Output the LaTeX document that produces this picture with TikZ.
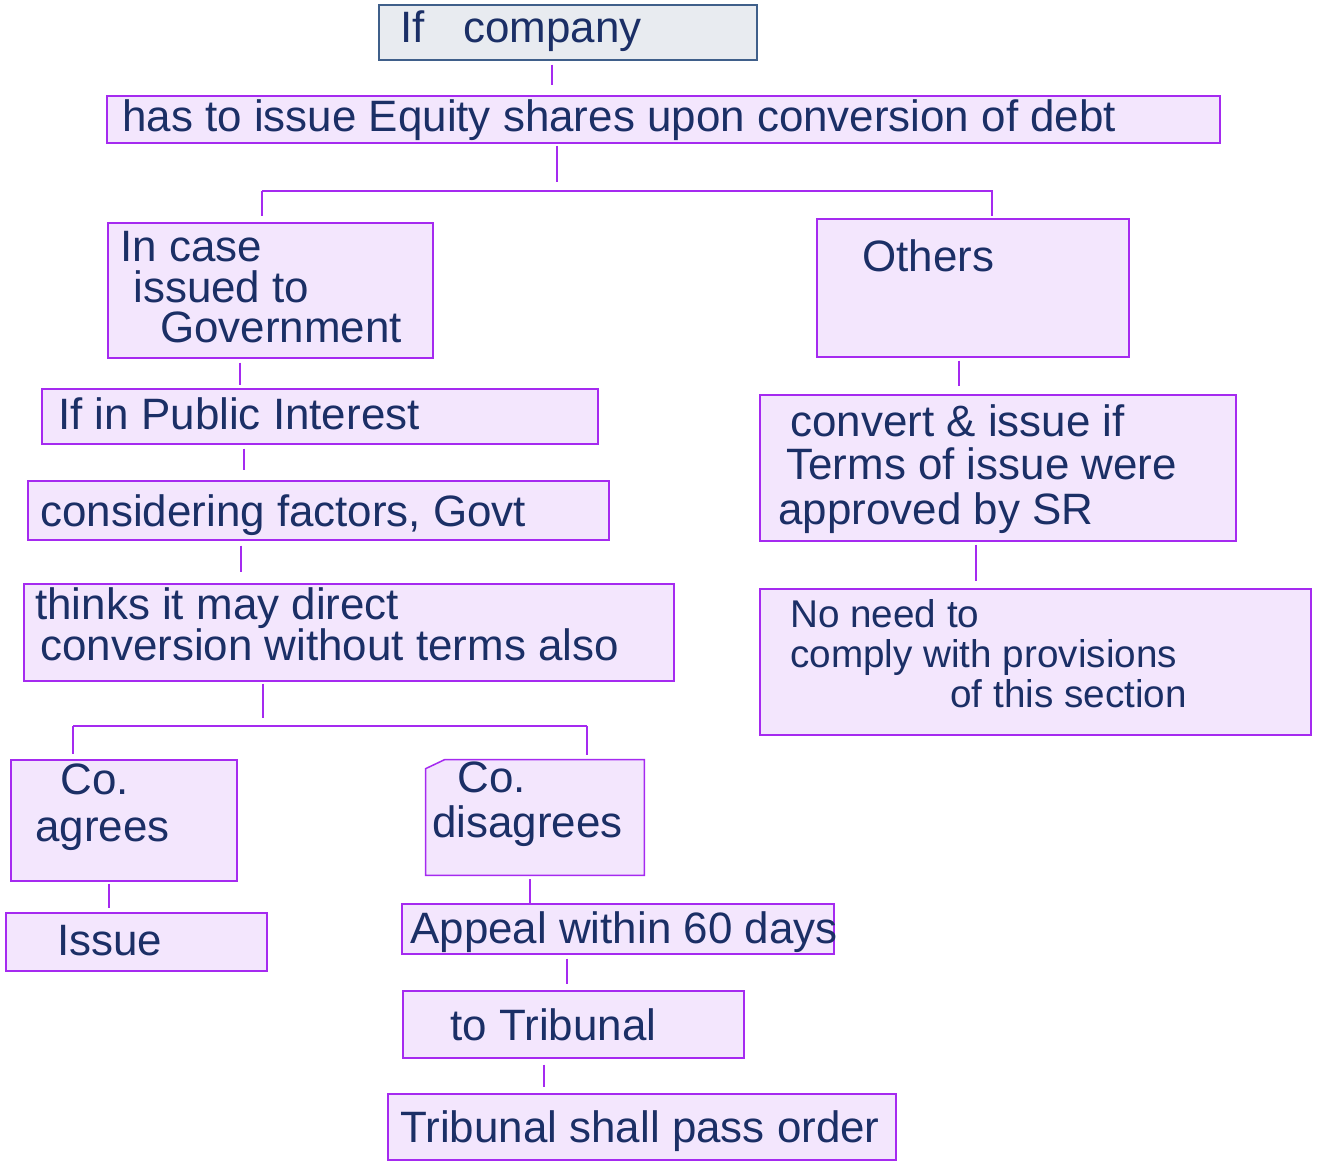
\documentclass[tikz,border=0pt]{standalone}
\usepackage{fontspec}
\setmainfont{Liberation Sans}
\usetikzlibrary{calc,fit}
\definecolor{pborder}{HTML}{A52AF0}
\definecolor{pfill}{HTML}{F3E6FD}
\definecolor{gfill}{HTML}{E8EBF0}
\definecolor{gborder}{HTML}{3F5F8A}
\definecolor{ink}{HTML}{1B2F66}
\tikzset{
 pbox/.style={draw=pborder, fill=pfill, line width=0.85pt, inner sep=0pt},
 gbox/.style={draw=gborder, fill=gfill, line width=0.85pt, inner sep=0pt},
 hidbox/.style={inner sep=0pt},
 conn/.style={draw=pborder, line width=1.1pt},
 txt/.style={text=ink, font=\fontsize{25}{28}\selectfont, anchor=base west, inner sep=0pt},
 smalltxt/.style={txt, font=\fontsize{22}{24}\selectfont},
}
\newcommand{\mkbox}[6]{%
 \path (#3,#4) coordinate (#2-a) (#5,#6) coordinate (#2-b);
 \node[#1, fit=(#2-a)(#2-b)] (#2) {};
}
\begin{document}
\begin{tikzpicture}[x=0.02cm,y=-0.02cm]
\useasboundingbox[fill=white] (0,0) rectangle (1319,1168);
% boxes
\mkbox{gbox}{b1}{379}{5}{757}{60}
\mkbox{pbox}{b2}{107}{96}{1220}{143}
\mkbox{pbox}{b3}{108}{223}{433}{358}
\mkbox{pbox}{b4}{817}{219}{1129}{357}
\mkbox{pbox}{b5}{42}{389}{598}{444}
\mkbox{pbox}{b6}{28}{481}{609}{540}
\mkbox{pbox}{b7}{24}{584}{674}{681}
\mkbox{pbox}{b8}{11}{760}{237}{881}
\mkbox{hidbox}{b9}{426}{760}{644}{875}
\fill[pfill] (b9.south west) -- ($(b9.north west)+(0,9)$) -- ($(b9.north west)+(19,0)$) -- (b9.north east) -- (b9.south east) -- cycle;
\draw[draw=pborder, line width=0.85pt] (b9.south west) -- ($(b9.north west)+(0,9)$) -- ($(b9.north west)+(19,0)$) -- (b9.north east) -- (b9.south east) -- cycle;
\mkbox{pbox}{b10}{6}{913}{267}{971}
\mkbox{pbox}{b11}{402}{904}{834}{954}
\mkbox{pbox}{b12}{403}{991}{744}{1058}
\mkbox{pbox}{b13}{388}{1094}{896}{1160}
\mkbox{pbox}{b14}{760}{395}{1236}{541}
\mkbox{pbox}{b15}{760}{589}{1311}{735}
% column coordinates
\coordinate (xa) at (552,0);
\coordinate (xb) at (557,0);
\coordinate (xc) at (240,0);
\coordinate (xd) at (244,0);
\coordinate (xe) at (241,0);
\coordinate (xf) at (263,0);
\coordinate (xg) at (109,0);
\coordinate (xh) at (530,0);
\coordinate (xi) at (567,0);
\coordinate (xj) at (544,0);
\coordinate (xk) at (959,0);
\coordinate (xl) at (976,0);
\coordinate (bar1l) at (262,191);
\coordinate (bar1r) at (993,191);
\coordinate (bar2l) at (73,726);
\coordinate (bar2r) at (587,726);
% connectors
\draw[conn] ($(b1.south -| xa)+(0,4)$) -- ($(b2.north -| xa)+(0,-10)$);
\draw[conn] ($(b2.south -| xb)+(0,2)$) -- ($(b2.south -| xb)+(0,38)$);
\draw[conn] (bar1l) -- (bar1r);
\draw[conn] (bar1l) -- ($(b3.north -| bar1l)+(0,-6)$);
\draw[conn] ([xshift=-0.02cm]bar1r) -- ($(b4.north -| bar1r)+(-1,-2)$);
\draw[conn] ($(b3.south -| xc)+(0,4)$) -- ($(b5.north -| xc)+(0,-3)$);
\draw[conn] ($(b5.south -| xd)+(0,4)$) -- ($(b6.north -| xd)+(0,-10)$);
\draw[conn] ($(b6.south -| xe)+(0,5)$) -- ($(b7.north -| xe)+(0,-11)$);
\draw[conn] ($(b7.south -| xf)+(0,2)$) -- ($(b7.south -| xf)+(0,36)$);
\draw[conn] (bar2l) -- (bar2r);
\draw[conn] (bar2l) -- ($(b8.north -| bar2l)+(0,-5)$);
\draw[conn] (bar2r) -- ($(b9.north -| bar2r)+(0,-5)$);
\draw[conn] ($(b8.south -| xg)+(0,2)$) -- ($(b10.north -| xg)+(0,-4)$);
\draw[conn] ($(b9.south -| xh)+(0,4)$) -- ($(b11.north -| xh)+(0,0)$);
\draw[conn] ($(b11.south -| xi)+(0,4)$) -- ($(b12.north -| xi)+(0,-6)$);
\draw[conn] ($(b12.south -| xj)+(0,6)$) -- ($(b13.north -| xj)+(0,-6)$);
\draw[conn] ($(b4.south -| xk)+(0,3)$) -- ($(b14.north -| xk)+(0,-8)$);
\draw[conn] ($(b14.south -| xl)+(0,3)$) -- ($(b15.north -| xl)+(0,-7)$);
% texts
\node[txt] (t1) at (400,43) {If\hspace{22pt}company};
\node[txt] (t2) at (122,132) {has to issue Equity shares upon conversion of debt};
\node[txt] (t3a) at (120,262) {In case};
\node[txt] (t3b) at (133,303) {issued to};
\node[txt] (t3c) at (160,343) {Government};
\node[txt] (t4) at (862,272) {Others};
\node[txt] (t5) at (58,430) {If in Public Interest};
\node[txt] (t6) at (40,527) {considering factors, Govt};
\node[txt] (t7a) at (35,620) {thinks it may direct};
\node[txt] (t7b) at (40,661) {conversion without terms also};
\node[txt] (t8a) at (60,795) {Co.};
\node[txt] (t8b) at (35,842) {agrees};
\node[txt] (t9a) at (457,793) {Co.};
\node[txt] (t9b) at (432,838) {disagrees};
\node[txt] (t10) at (57,955) {Issue};
\node[txt] (t11) at (410,943) {Appeal within 60 days};
\node[txt] (t12) at (450,1040) {to Tribunal};
\node[txt] (t13) at (400,1142) {Tribunal shall pass order};
\node[txt] (t14a) at (790,437) {convert \& issue if};
\node[txt] (t14b) at (786,480) {Terms of issue were};
\node[txt] (t14c) at (778,525) {approved by SR};
\node[smalltxt] (t15a) at (790,628) {No need to};
\node[smalltxt] (t15b) at (790,668) {comply with provisions};
\node[smalltxt] (t15c) at (950,708) {of this section};
\end{tikzpicture}
\end{document}
